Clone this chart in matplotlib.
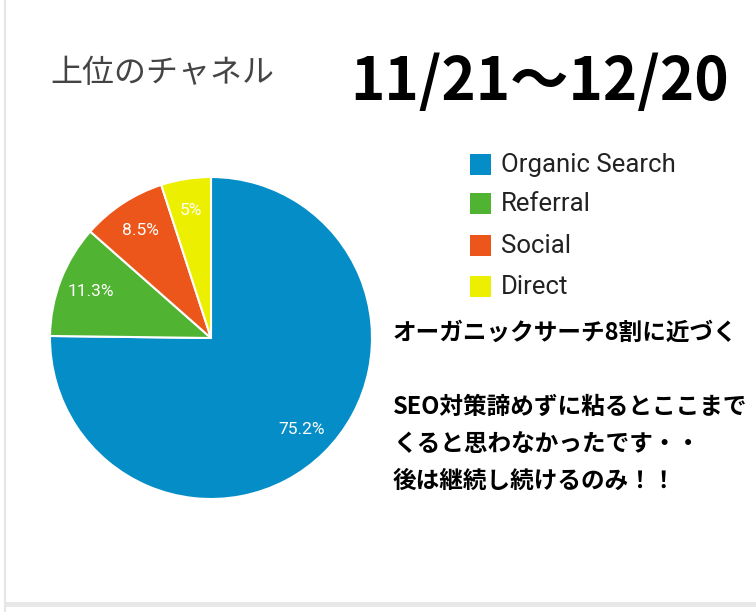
import matplotlib.pyplot as plt
from matplotlib.patches import Rectangle
from matplotlib.lines import Line2D

channels = ['Organic Search', 'Referral', 'Social', 'Direct']
shares = [75.2, 11.3, 8.5, 5.0]
share_labels = ['75.2%', '11.3%', '8.5%', '5%']
colors = ['#058DC7', '#50B432', '#ED561B', '#EDEF00']

title = '上位のチャネル'
period = '11/21〜12/20'
note_lines = ['オーガニックサーチ8割に近づく', '', 'SEO対策諦めずに粘るとここまで',
              'くると思わなかったです・・', '後は継続し続けるのみ！！']

W, H = 756, 612
fig = plt.figure(figsize=(W / 100, H / 100), dpi=100)
fig.patch.set_facecolor('white')

# frame bits from the screenshot
fig.add_artist(Line2D([5 / W, 5 / W], [0, 1], color='#e6e6e6', lw=1.5))
fig.add_artist(Rectangle((6 / W, 1 - 607 / H), 1, 5 / H, color='#e8e8e8', lw=0))

# pie: centre (211, 338), radius ~161 px
cx, cy, r = 211, 338, 161
ax = fig.add_axes([(cx - r) / W, 1 - (cy + r) / H, 2 * r / W, 2 * r / H])
wedges, texts = ax.pie(shares, labels=share_labels, colors=colors, startangle=90,
                       counterclock=False, labeldistance=0.8,
                       wedgeprops=dict(edgecolor='white', linewidth=1.5),
                       textprops=dict(color='white', fontsize=12.5, family=['Roboto', 'DejaVu Sans']))
for t in texts:
    t.set_ha('center')
    t.set_va('center')
ax.set_xlim(-1, 1)
ax.set_ylim(-1, 1)
ax.set_aspect('equal')
ax.axis('off')

fig.text(50 / W, 1 - 73 / H, title, fontsize=23, color='#444444',
         family=['Noto Sans CJK JP', 'DejaVu Sans'], va='center', ha='left')
fig.text(540 / W, 1 - 83 / H, period, fontsize=42, color='black', fontweight='bold',
         family=['Noto Sans CJK JP', 'DejaVu Sans'], va='center', ha='center')

# legend
leg_y = [165, 204, 246, 287]
for name, col, y in zip(channels, colors, leg_y):
    fig.add_artist(Rectangle((470 / W, 1 - (y + 10) / H), 21 / W, 21 / H, color=col, lw=0))
    fig.text(501 / W, 1 - y / H, name, fontsize=18.5, color='#222222',
             family=['Roboto', 'DejaVu Sans'], va='center', ha='left')

for i, line in enumerate(note_lines):
    fig.text(393 / W, 1 - (333 + i * 37) / H, line, fontsize=17, color='black',
             fontweight='bold', family=['Noto Sans CJK JP', 'DejaVu Sans'],
             va='center', ha='left')

fig.savefig('out.png', dpi=100, facecolor='white')
